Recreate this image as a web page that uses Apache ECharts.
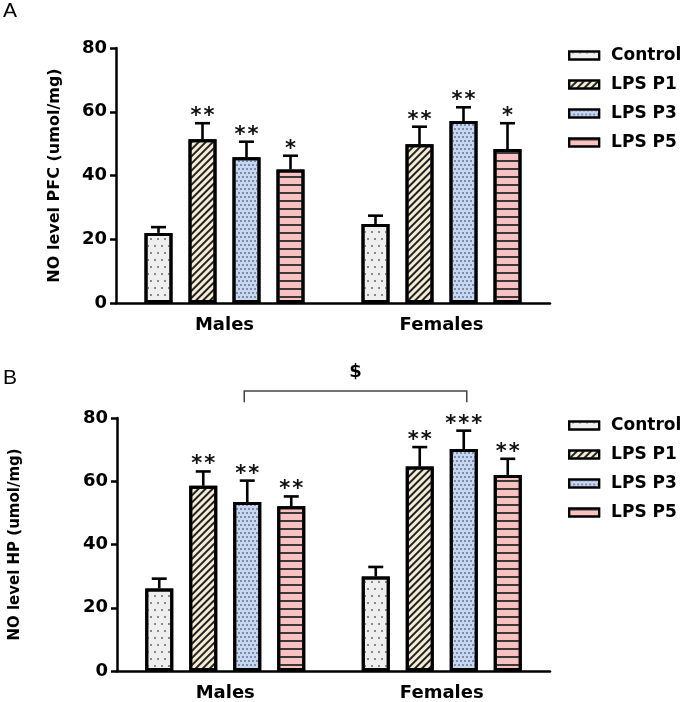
<!DOCTYPE html>
<html><head><meta charset="utf-8">
<script src="https://cdn.jsdelivr.net/npm/echarts@6/dist/echarts.min.js"></script>
<style>html,body{margin:0;padding:0;background:#fff}#c{width:685px;height:702px}</style>
</head><body><div id="c"></div>
<script>
// ---- data ----
const categories = ['Males', 'Females'];
const groups = ['Control', 'LPS P1', 'LPS P3', 'LPS P5'];
const yTicks = [0, 20, 40, 60, 80];
const yTitleA = 'NO level PFC (umol/mg)';
const yTitleB = 'NO level HP (umol/mg)';

// Panel A: NO level PFC (umol/mg)  [Males, Females]
const pfcControl = [22.0, 24.8];
const pfcP1 = [51.4, 49.8];
const pfcP3 = [45.7, 57.1];
const pfcP5 = [41.9, 48.3];
const pfcControlErr = [1.8, 2.6];
const pfcP1Err = [5.0, 5.5];
const pfcP3Err = [4.9, 4.3];
const pfcP5Err = [4.3, 8.1];
const pfcStars = [[0, 2, 2, 1], [0, 2, 2, 1]];

// Panel B: NO level HP (umol/mg)  [Males, Females]
const hpControl = [26.1, 29.9];
const hpP1 = [58.6, 64.7];
const hpP3 = [53.4, 70.2];
const hpP5 = [52.1, 62.0];
const hpControlErr = [3.1, 3.0];
const hpP1Err = [4.5, 6.1];
const hpP3Err = [6.8, 5.8];
const hpP5Err = [3.1, 5.1];
const hpStars = [[0, 2, 2, 2], [0, 2, 3, 2]];

// ---- styles ----
const FONT = 'DejaVu Sans';
const BAR_W = 28, BAR_STEP = 44;
const styles = [
  { color: '#efefef', decal: { symbol: 'circle', symbolSize: 1, color: '#666', dashArrayX: [[1.5, 4.5], [0, 3, 1.5, 1.5]], dashArrayY: [1.5, 4.5] } },
  { color: '#f4ecd4', decal: { symbol: 'rect', symbolSize: 1, color: '#222', dashArrayX: [1, 0], dashArrayY: [1.6, 2.8], rotation: -Math.PI / 4 } },
  { color: '#c7d7f0', decal: { symbol: 'circle', symbolSize: 1, color: '#62739a', dashArrayX: [[2, 2], [0, 2, 2, 0]], dashArrayY: [1.6, 1.4] } },
  { color: '#f9c1c1', decal: { symbol: 'rect', symbolSize: 1, color: '#3a3a3a', dashArrayX: [1, 0], dashArrayY: [1.5, 5.8] } }
];

function barSeries(gridIdx, values) {
  return values.map((v, i) => ({
    type: 'bar', name: groups[i], xAxisIndex: gridIdx, yAxisIndex: gridIdx,
    data: v, barWidth: BAR_W, barGap: ((BAR_STEP - BAR_W) / BAR_W * 100) + '%',
    itemStyle: { color: styles[i].color, borderColor: '#000', borderWidth: 3, decal: styles[i].decal },
    emphasis: { disabled: true }, z: 2
  }));
}

function errSeries(gridIdx, means, errs, stars) {
  const data = [];
  for (let g = 0; g < 4; g++) for (let c = 0; c < categories.length; c++)
    data.push([c, means[g][c], errs[g][c], g, stars[c][g]]);
  return {
    type: 'custom', xAxisIndex: gridIdx, yAxisIndex: gridIdx, clip: false, z: 3,
    silent: true,
    renderItem: function (params, api) {
      const c = api.value(0), m = api.value(1), e = api.value(2), g = api.value(3), ns = api.value(4);
      const b = api.coord([c, m]), t = api.coord([c, m + e]);
      const x = b[0] + (g - 1.5) * BAR_STEP;
      const ch = [
        { type: 'line', shape: { x1: x, y1: b[1], x2: x, y2: t[1] }, style: { stroke: '#000', lineWidth: 2.6 } },
        { type: 'line', shape: { x1: x - 7.5, y1: t[1], x2: x + 7.5, y2: t[1] }, style: { stroke: '#000', lineWidth: 2.6 } }
      ];
      for (let k = 0; k < ns; k++) {
        ch.push({ type: 'text', style: { text: '*', x: x + (k - (ns - 1) / 2) * 13, y: t[1] + 4, align: 'center', verticalAlign: 'bottom', font: 'bold 21px "' + FONT + '"', fill: '#111' } });
      }
      return { type: 'group', children: ch };
    },
    data: data
  };
}

const bracketSeries = {
  type: 'custom', xAxisIndex: 1, yAxisIndex: 1, clip: false, z: 3, silent: true,
  renderItem: function (params, api) {
    const l = api.coord([0, 88.5]), r = api.coord([1, 88.5]);
    const d = api.coord([0, 85]), s = api.coord([0, 94.5]);
    const xl = l[0] + 0.5 * BAR_STEP - 3, xr = r[0] + 0.5 * BAR_STEP + 3;
    return { type: 'group', children: [
      { type: 'polyline', shape: { points: [[xl, d[1]], [xl, l[1]], [xr, l[1]], [xr, d[1]]] }, style: { stroke: '#444', lineWidth: 1.5, fill: null } },
      { type: 'text', style: { text: '$', x: (xl + xr) / 2, y: s[1], align: 'center', verticalAlign: 'middle', font: 'bold 18px "' + FONT + '"', fill: '#000' } }
    ] };
  },
  data: [[0, 88.5]]
};

function xAxis(gridIdx) {
  return {
    type: 'category', gridIndex: gridIdx, data: categories,
    axisLine: { lineStyle: { color: '#000', width: 2.5 } },
    axisTick: { alignWithLabel: true, length: 7, lineStyle: { color: '#000', width: 2.5 } },
    axisLabel: { color: '#000', fontFamily: FONT, fontWeight: 'bold', fontSize: 18, margin: 13 }
  };
}
function yAxis(gridIdx, name, nameSize, gap) {
  return {
    type: 'value', gridIndex: gridIdx, min: yTicks[0], max: yTicks[yTicks.length - 1], interval: 20,
    name: name, nameLocation: 'middle', nameGap: gap,
    nameTextStyle: { color: '#000', fontFamily: FONT, fontWeight: 'bold', fontSize: nameSize },
    axisLine: { show: true, lineStyle: { color: '#000', width: 2.5 } },
    axisTick: { show: true, length: 6, lineStyle: { color: '#000', width: 2.5 } },
    axisLabel: { color: '#000', fontFamily: FONT, fontWeight: 'bold', fontSize: 18, margin: 9 },
    splitLine: { show: false }
  };
}
function legend(top) {
  return {
    orient: 'vertical', left: 563, top: top, itemWidth: 30, itemHeight: 8, itemGap: 12,
    icon: 'rect', data: groups, selectedMode: false,
    itemStyle: { borderColor: '#000', borderWidth: 2.2 },
    textStyle: { color: '#000', fontFamily: FONT, fontWeight: 'bold', fontSize: 17, padding: [0, 0, 0, 7] }
  };
}

const chart = echarts.init(document.getElementById('c'), null, { renderer: 'canvas' });
chart.setOption({
  animation: false,
  backgroundColor: '#fff',
  grid: [
    { left: 116, right: 135, top: 48, height: 255 },
    { left: 116, right: 135, top: 418, height: 254 }
  ],
  xAxis: [xAxis(0), xAxis(1)],
  yAxis: [yAxis(0, yTitleA, 16, 53), yAxis(1, yTitleB, 15, 94)],
  legend: [legend(42), legend(412)],
  graphic: [
    { type: 'text', left: 3, top: 1, style: { text: 'A', font: '21px "Liberation Sans"', fill: '#000' } },
    { type: 'text', left: 3, top: 368, style: { text: 'B', font: '21px "Liberation Sans"', fill: '#000' } }
  ],
  series: [
    ...barSeries(0, [pfcControl, pfcP1, pfcP3, pfcP5]),
    errSeries(0, [pfcControl, pfcP1, pfcP3, pfcP5], [pfcControlErr, pfcP1Err, pfcP3Err, pfcP5Err], pfcStars),
    ...barSeries(1, [hpControl, hpP1, hpP3, hpP5]),
    errSeries(1, [hpControl, hpP1, hpP3, hpP5], [hpControlErr, hpP1Err, hpP3Err, hpP5Err], hpStars),
    bracketSeries
  ]
});
</script></body></html>
